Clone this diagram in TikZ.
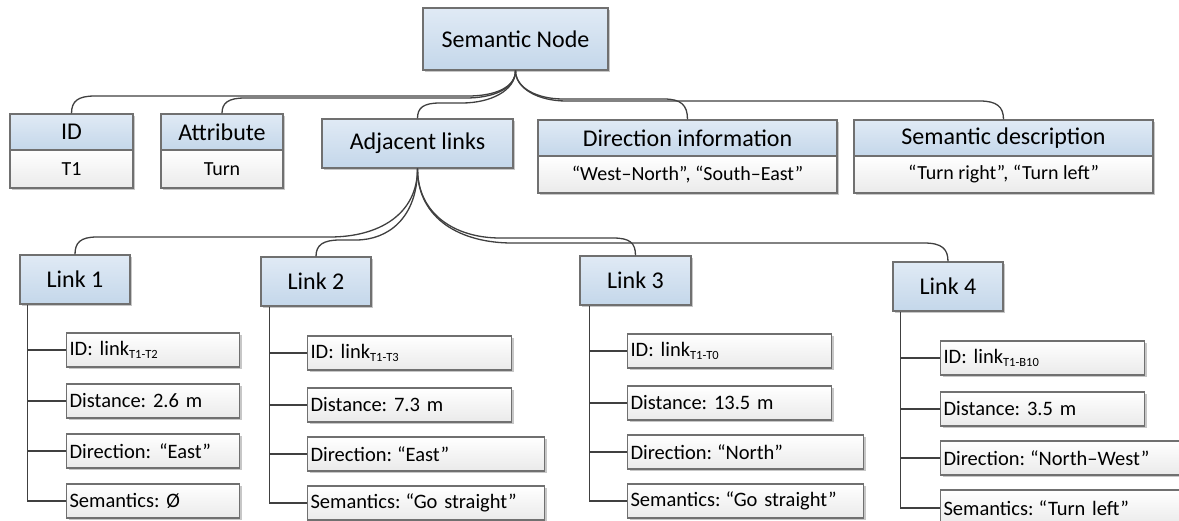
\documentclass[tikz,border=0pt]{standalone}
\usepackage{fontspec}
\setmainfont{Carlito}
\usetikzlibrary{calc,shadows}
\definecolor{hdtop}{RGB}{224,234,245}
\definecolor{hdbot}{RGB}{196,215,234}
\definecolor{bdbot}{RGB}{234,234,234}
\definecolor{edge}{RGB}{112,112,112}
\definecolor{wire}{RGB}{64,64,64}
\newcommand{\sbs}[1]{\raisebox{-3pt}{\fontsize{12.5}{13}\selectfont #1}}
\newcommand{\myoq}{\hspace{5pt}“}
\newcommand{\mycq}{”}
\frenchspacing
\begin{document}
\begin{tikzpicture}[x=1pt,y=-1pt,
  base/.style={draw=edge, line width=1.1pt, drop shadow={shadow xshift=2pt,shadow yshift=-2pt,fill=black,opacity=0.22}, inner sep=0pt, text=black},
  hdr/.style={base, top color=hdtop, bottom color=hdbot, font=\fontsize{24}{28}\selectfont},
  bodybox/.style={base, top color=white, bottom color=bdbot, font=\fontsize{20}{24}\selectfont},
  leafbox/.style={base, top color=white, bottom color=bdbot, font=\fontsize{20.5}{24}\selectfont\frenchspacing, anchor=west, inner sep=3pt, text width=#1, align=left, minimum height=34pt},
  conn/.style={draw=wire, line width=1.3pt},
  ]
\useasboundingbox (0,0) rectangle (1179,521);
\clip (0,0) rectangle (1179,521);
\fill[white] (0,0) rectangle (1179,521);

% top level
\node[hdr, minimum width=185pt, minimum height=62pt] (sn) at (515.5,39) {Semantic Node};
\node[hdr, minimum width=123pt, minimum height=36pt] (idh) at (71.5,132) {ID};
\node[bodybox, minimum width=123pt, minimum height=38pt] (idb) at (71.5,169) {T1};
\node[hdr, minimum width=122pt, minimum height=36pt] (ath) at (222,132) {Attribute};
\node[bodybox, minimum width=122pt, minimum height=38pt] (atb) at (222,169) {Turn};
\node[hdr, minimum width=191pt, minimum height=49pt] (adj) at (417.5,143.5) {Adjacent links};
\node[hdr, minimum width=299pt, minimum height=36pt] (dih) at (687.5,138) {Direction information};
\node[bodybox, minimum width=299pt, minimum height=37pt] (dib) at (687.5,174.5) {“West–North”, “South–East”};
\node[hdr, minimum width=299pt, minimum height=36pt] (sdh) at (1003.5,138) {Semantic description};
\node[bodybox, minimum width=299pt, minimum height=37pt] (sdb) at (1003.5,174.5) {“Turn right”, “Turn left”};

% links
\node[hdr, minimum width=110pt, minimum height=49pt] (l1) at (75,279.5) {Link 1};
\node[hdr, minimum width=110pt, minimum height=49pt] (l2) at (316,281.5) {Link 2};
\node[hdr, minimum width=111pt, minimum height=49pt] (l3) at (635.5,280.5) {Link 3};
\node[hdr, minimum width=110pt, minimum height=49pt] (l4) at (948,286.5) {Link 4};

% link 1 children
\node[leafbox=167pt] (a1) at (66,350) {ID: link\sbs{T1-T2}};
\node[leafbox=167pt] (a2) at (66,401) {Distance: 2.6 m};
\node[leafbox=167pt] (a3) at (66,451) {Direction:\hspace{3pt}\myoq East\mycq};
\node[leafbox=167pt] (a4) at (66,501) {Semantics: Ø};
% link 2 children
\node[leafbox=198pt] (b1) at (307,353) {ID: link\sbs{T1-T3}};
\node[leafbox=198pt] (b2) at (307,405) {Distance: 7.3 m};
\node[leafbox=231pt] (b3) at (307,454) {Direction:\myoq East\mycq};
\node[leafbox=231pt] (b4) at (307,503) {Semantics:\myoq Go straight\mycq};
% link 3 children
\node[leafbox=198pt] (c1) at (627,351) {ID: link\sbs{T1-T0}};
\node[leafbox=198pt] (c2) at (627,403) {Distance: 13.5 m};
\node[leafbox=230pt] (c3) at (627,452) {Direction:\myoq North\mycq};
\node[leafbox=230pt] (c4) at (627,501) {Semantics:\myoq Go straight\mycq};
% link 4 children
\node[leafbox=198pt] (d1) at (940,358) {ID: link\sbs{T1-B10}};
\node[leafbox=198pt] (d2) at (940,409) {Distance: 3.5 m};
\node[leafbox=236pt] (d3) at (940,458) {Direction:\myoq North–West\mycq};
\node[leafbox=236pt, minimum height=36pt] (d4) at (940,508) {Semantics:\myoq Turn left\mycq};

% top fan
\draw[conn] (sn.south) .. controls (515.5,88) and (494,96) .. (468,96) -- (95,96) .. controls (78,96) and (71.5,101) .. (idh.north);
\draw[conn] (sn.south) .. controls (515.5,89) and (493,98) .. (466,98) -- (245,98) .. controls (228,98) and (222,103) .. (ath.north);
\draw[conn] (sn.south) .. controls (515.5,91) and (490,103) .. (462,103) -- (440,103) .. controls (423,103) and (417.5,108) .. (adj.north);
\draw[conn] (sn.south) .. controls (515.5,88) and (537,99) .. (563,99) -- (664,99) .. controls (681,99) and (687.5,105) .. (dih.north);
\draw[conn] (sn.south) .. controls (515.5,89) and (539,101) .. (566,101) -- (980,101) .. controls (997,101) and (1003.5,107) .. (sdh.north);

% adjacent-links fan
\draw[conn] (adj.south) .. controls (417.5,215) and (378,237) .. (330,237) -- (97,237) .. controls (80,237) and (75,243) .. (l1.north);
\draw[conn] (adj.south) .. controls (417.5,218) and (388,240) .. (356,240) -- (340,240) .. controls (323,240) and (316,245) .. (l2.north);
\draw[conn] (adj.south) .. controls (417.5,214) and (455,238) .. (500,238) -- (613,238) .. controls (630,238) and (635.5,243) .. (l3.north);
\draw[conn] (adj.south) .. controls (417.5,220) and (462,243) .. (512,243) -- (924,243) .. controls (942,243) and (948,249) .. (l4.north);

% trees
\coordinate (t1) at ($(l1.south west)+(8,0)$);
\coordinate (t2) at ($(l2.south west)+(9,0)$);
\coordinate (t3) at ($(l3.south west)+(10,0)$);
\coordinate (t4) at ($(l4.south west)+(8,0)$);
\draw[conn] (t1) |- (a4.west);
\draw[conn] (t2) |- (b4.west);
\draw[conn] (t3) |- (c4.west);
\draw[conn] (t4) |- (d4.west);
\foreach \c in {a1,a2,a3} \draw[conn] (t1 |- \c.west) -- (\c.west);
\foreach \c in {b1,b2,b3} \draw[conn] (t2 |- \c.west) -- (\c.west);
\foreach \c in {c1,c2,c3} \draw[conn] (t3 |- \c.west) -- (\c.west);
\foreach \c in {d1,d2,d3} \draw[conn] (t4 |- \c.west) -- (\c.west);
\end{tikzpicture}
\end{document}
